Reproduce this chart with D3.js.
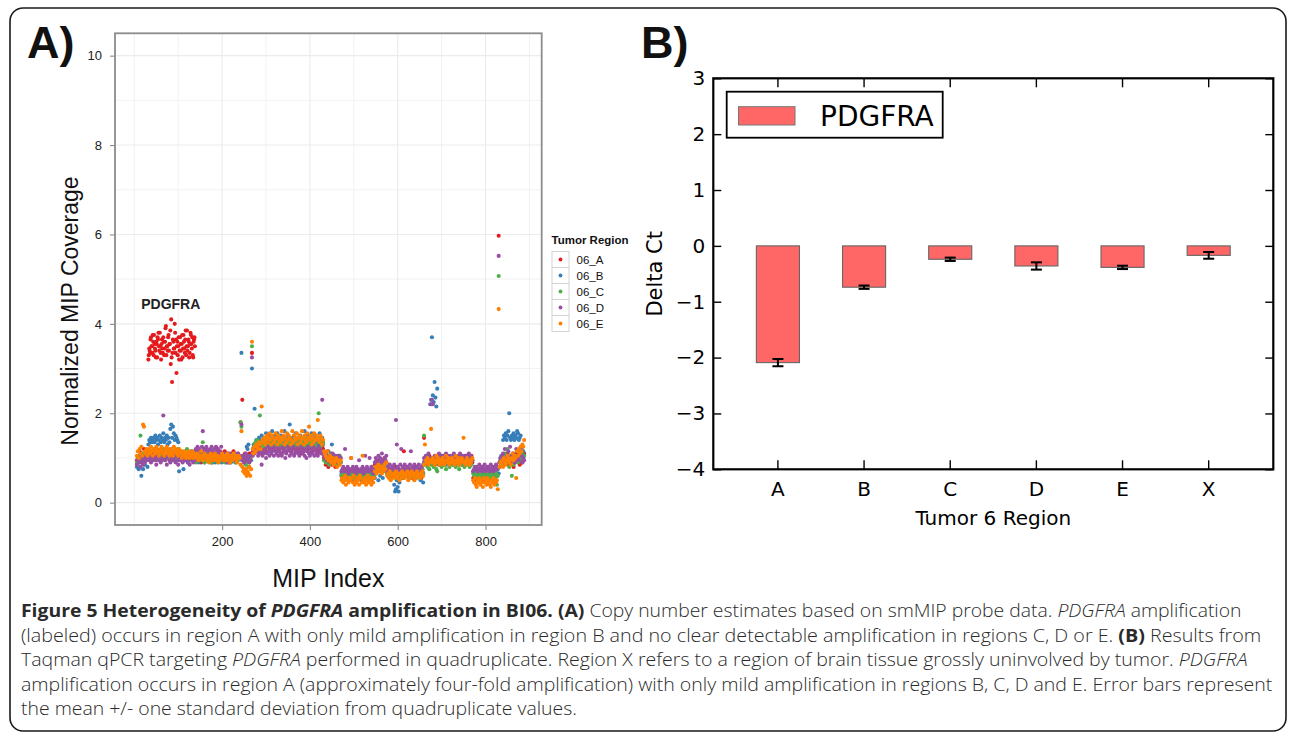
<!DOCTYPE html>
<html><head><meta charset="utf-8">
<script src="https://cdn.jsdelivr.net/npm/d3@7"></script>
<style>
html,body{margin:0;padding:0;background:#fff;}
svg{display:block;}
</style></head><body>
<svg id="fig" width="1290" height="735"></svg>
<script>
// ================= Panel A data =================
const tumorRegions = ["06_A", "06_B", "06_C", "06_D", "06_E"];
const regionColors = ["#E41A1C", "#377EB8", "#4DAF4A", "#984EA3", "#FF7F00"];
const mipMajorTicks = [200, 400, 600, 800];
const mipMinorGrid = [0, 100, 300, 500, 700, 900];
const coverageTicks = [0, 2, 4, 6, 8, 10];
const coverageMinorGrid = [1, 3, 5, 7, 9];

// Normalized coverage, one character per probe
// (every 2nd MIP index from the run's start index); value = (charCode - 40) / 20
// e.g. "<" = 1.0, "A" = 1.25, "2" = 0.5, "p" = 3.6
const cov06_A = [
  [6, ";<=?<>:=@<;>="],
  [32, "hmkrnsjolpiqntkomrjpwnlsouz^qmxkbpnhrloismqjunpktoriqn"],
  [33, "jlqnkpsmiortlnhqkpmvjnrlofikpmtqnjrlohsmpkunlqiosmjpr"],
  [140, "<=;>?<:=<>@;<=>;?<=:<>=;<@?=<;>=<?;=<>:=<;>?<=;<>=<"],
  [242, "L<V=;>:<=;><="],
  [268, "k"],
  [270, "?>@A?@BA>?@CB@A?BDA@C?AB@DCA?B@AC>B@DA?CBA@B?DCA@B?AC@BA>?@BAC?@B>A@?BAC@?>A@B?A@"],
  [432, "<;9:=8;<:9;=<8:;9<;:"],
  [472, "43526345245362435426354235462453652436"],
  [548, "9:7;8:96;:8<9:"],
  [576, "5746354765847536457?6548574635764857456375"],
  [660, "E;:<9;=:<;9:<=;:<9;:=<;9:;<=:9;<:;=9<:;<=:;9<;:=<;:9<;=:"],
  [772, "35462453643526453652435463545"],
  [832, "8:;<9=:;<>9;:<=;8<:>;=<9;<:=>"]
];
const cov06_B = [
  [6, "8;7:<4;7:9;<8"],
  [32, "BDCECDECFDEBDFCEDGCEDFBECIKEJGDFEDC6=;<>7=<;>:=<;?=<;>"],
  [140, ";<=:<;>=<;:<=;<>;:<=<;:=<>;<=:;<=;<:>=;<:=<;>:<=;<<"],
  [242, "=k;<:=;A@B<=;"],
  [268, "d"],
  [270, "@BRADCBEDCFBDECGDBFCEDHBDFCEGBDCFEDBHCEDFCKBDECFDGBCEDFBCEDHBCFDEBCGDEBFCDEBGCDEB"],
  [432, "?>=<?=;<>B<=;:<;=:;<"],
  [472, "54635462536453625463546253645362546354"],
  [548, "3869274;83:796"],
  [576, "574635470-.2/-1546375465736457546375642561"],
  [660, ":<;9=;:TVrXU^WS[;:<9=;<:;9<=:;<;:9=<;:<;9:=<;:<9;=:<;:<;"],
  [772, "657465736475645736574657364575"],
  [832, ":<=;DFEGDFHPEDFEGDFEHGDEF@>?="]
];
const cov06_C = [
  [6, ":<=;F<>;=<?;="],
  [32, "<=>;?<=@;<>=?;<=>@<;=?<>=;@<=?>;<=@>;<?=<>;=@<?;=<>=?<"],
  [140, ":<=;<>=;C<:=<;>=<;:<=>;<=:;<>=;<=:<;>=<:;=<;>=:<;<="],
  [242, "LJ<;=:9;<8:<="],
  [268, "n"],
  [270, "@ABCADB@OCBDACBEADCBDAEBCADBECADCBAEDBCADBECDABCEADBCDAEBCDABECDABCEADCBDAEPCADBC"],
  [432, ";<:=;<9=>;<:;=<9;<=:"],
  [472, "45345635443543654345364534536453436544"],
  [548, "7869788:7968:7"],
  [576, "546354765463574653746545637465473564536475"],
  [660, "F:9;8:7;9<:8;976:;9<8:;9:7;<98:;:9<;8:;97:;<9:8;9<:;8:9;"],
  [772, "54635463546354654364535463504"],
  [832, "8;<:9=>;<@:8;=4>9;<=?:;<=>;<="]
];
const cov06_D = [
  [6, "9;<:8=;9<:;=<"],
  [32, "<;=:<>;<=9;<=>:;<O=;<9=>;:<=;<>:=;9<;=<:>;=<;:=9<;=:<;"],
  [140, "@?A>@?=AH@>?A@=?>@A?=@>A?@=>?A<=;><=:<=>;<=><;=<><="],
  [242, "<K;=:<>;=<:;="],
  [268, "i"],
  [270, "=?>@A?=>@?9=>?@<>A?=@>?A=@?>A=?@>=A?@<>?A@=?>@A=>?@A>=?@A>?=@<?A>=@?>A=@?>=A@?>V?"],
  [432, "=<>;=?<:=<>;<=;<:=;<"],
  [472, "6786@768576<78675876;676857=6876<78657"],
  [548, ":<;9=:<;>:9<;="],
  [576, "6879768597MB8769@7869758679?68797685976869"],
  [660, "<;=:<>;<TVT;=<:;<>=;:<=;<>:=<;=<:;>=<;:=<>;<=:;<=;<>:=<;"],
  [772, "67878679786879678876978687978"],
  [832, ":<;=>:@<;=?<A;=<>:;@=<;>?=:<;"]
];
const cov06_E = [
  [6, "=?<@>A=KJ?>@="],
  [32, "?@>A?=@?>A@?=>@A?>=@?A>@=?@>=A?@>?=@>?<=>?=<>=?<>=?<>="],
  [140, "=<>;=<?=;<>=<;=:<>=;<=>;<=:;<=><;=<;>=<:=;<><=;:<=<"],
  [242, "9H86757465847"],
  [268, "p"],
  [270, "@>A?BA@CB@SDCEBDFCEGDBFECDGEBFDCEHDFBECGDFEBDHCFEDGBEFCDHEBFDCGEJDFBECGDFEMDCFEBD"],
  [432, "?>=<?;<=:;<9:;<8;:9;"],
  [472, "23124032132<314021320431=2130241320313"],
  [548, "6857968758697:"],
  [576, "453624535463452536453546245365425364543564"],
  [660, "9B;:<9;:I;<:9;=:<;9:;<:9;=;:<9:;<:;9=;:<9;:<;E:9;<:;9:;<"],
  [772, "2130/213021/31203120/2130212."],
  [832, "8:9;8<:9;=<:;9<>;=<3?=@>A?BAD"]
];
// single probes far above the encoded range
const coverageSpikes = [
  { region: "06_A", index: 830, value: 5.97 },
  { region: "06_C", index: 830, value: 5.07 },
  { region: "06_D", index: 830, value: 5.52 },
  { region: "06_E", index: 830, value: 4.33 }
];
const geneLabels = [{ text: "PDGFRA", index: 83, value: 4.44 }];

// ================= Panel B data =================
const tumor6Regions = ["A", "B", "C", "D", "E", "X"];
const deltaCt = [-2.09, -0.74, -0.24, -0.36, -0.385, -0.17];
const deltaCtSD = [0.065, 0.03, 0.03, 0.065, 0.03, 0.06];
const deltaCtTicks = [-4, -3, -2, -1, 0, 1, 2, 3];
const legendB = ["PDGFRA"];

// ================= Caption =================
const captionLines = [
  [["Figure 5 Heterogeneity of ", "b"], ["PDGFRA", "bi"], [" amplification in BI06. (A)", "b"], [" Copy number estimates based on smMIP probe data. ", ""], ["PDGFRA", "i"], [" amplification", ""]],
  [["(labeled) occurs in region A with only mild amplification in region B and no clear detectable amplification in regions C, D or E. ", ""], ["(B)", "b"], [" Results from", ""]],
  [["Taqman qPCR targeting ", ""], ["PDGFRA", "i"], [" performed in quadruplicate. Region X refers to a region of brain tissue grossly uninvolved by tumor. ", ""], ["PDGFRA", "i"]],
  [["amplification occurs in region A (approximately four-fold amplification) with only mild amplification in regions B, C, D and E. Error bars represent", ""]],
  [["the mean +/- one standard deviation from quadruplicate values.", ""]]
];
const captionRightEdge = [1242, 1262, 1248, 1273, 577];

// ================= Drawing =================
const svg = d3.select("#fig");
const ARIAL = "'Liberation Sans', Arial, Helvetica, sans-serif";
const DEJAVU = "'DejaVu Sans', 'Bitstream Vera Sans', sans-serif";

svg.append("rect").attr("x", 10).attr("y", 8).attr("width", 1276).attr("height", 723)
  .attr("rx", 13).attr("fill", "none").attr("stroke", "#1a1a1a").attr("stroke-width", 1.6);

// ---------- Panel A ----------
const pa = { left: 115, right: 541.7, top: 33.3, bottom: 525 };
const xA = d3.scaleLinear().domain([-44, 928]).range([pa.left, pa.right]);
const yA = d3.scaleLinear().domain([-0.5, 10.5]).range([pa.bottom, pa.top]);
const gA = svg.append("g");

gA.append("rect").attr("x", pa.left).attr("y", pa.top).attr("width", pa.right - pa.left)
  .attr("height", pa.bottom - pa.top).attr("fill", "#fff");

gA.selectAll("line.vminor").data(mipMinorGrid).join("line")
  .attr("x1", d => xA(d)).attr("x2", d => xA(d)).attr("y1", pa.top).attr("y2", pa.bottom)
  .attr("stroke", "#f2f2f2").attr("stroke-width", 1);
gA.selectAll("line.hminor").data(coverageMinorGrid).join("line")
  .attr("y1", d => yA(d)).attr("y2", d => yA(d)).attr("x1", pa.left).attr("x2", pa.right)
  .attr("stroke", "#f2f2f2").attr("stroke-width", 1);
gA.selectAll("line.vmajor").data(mipMajorTicks).join("line")
  .attr("x1", d => xA(d)).attr("x2", d => xA(d)).attr("y1", pa.top).attr("y2", pa.bottom)
  .attr("stroke", "#ebebeb").attr("stroke-width", 1.1);
gA.selectAll("line.hmajor").data(coverageTicks).join("line")
  .attr("y1", d => yA(d)).attr("y2", d => yA(d)).attr("x1", pa.left).attr("x2", pa.right)
  .attr("stroke", "#ebebeb").attr("stroke-width", 1.1);

const decodeRuns = runs => runs.flatMap(([start, s]) =>
  Array.from(s, (c, i) => ({ index: start + 2 * i, value: (c.charCodeAt(0) - 40) / 20 })));
const seriesRuns = [cov06_A, cov06_B, cov06_C, cov06_D, cov06_E];
const color = d3.scaleOrdinal().domain(tumorRegions).range(regionColors);

tumorRegions.forEach((r, si) => {
  const pts = decodeRuns(seriesRuns[si]).concat(coverageSpikes.filter(d => d.region === r));
  gA.append("g").selectAll("circle").data(pts).join("circle")
    .attr("cx", d => xA(d.index)).attr("cy", d => yA(d.value)).attr("r", 2.05)
    .attr("fill", color(r));
});

gA.selectAll("text.gene").data(geneLabels).join("text")
  .attr("x", d => xA(d.index)).attr("y", d => yA(d.value)).attr("dy", "0.35em")
  .attr("text-anchor", "middle").attr("font-family", ARIAL).attr("font-weight", "bold")
  .attr("font-size", 14).attr("fill", "#222").text(d => d.text);

gA.append("rect").attr("x", pa.left).attr("y", pa.top).attr("width", pa.right - pa.left)
  .attr("height", pa.bottom - pa.top).attr("fill", "none").attr("stroke", "#8c8c8c").attr("stroke-width", 1.8);

const styleAxisA = g => {
  g.select(".domain").remove();
  g.selectAll(".tick line").attr("stroke", "#8c8c8c").attr("stroke-width", 1.1);
  g.selectAll(".tick text").attr("font-family", ARIAL).attr("font-size", 13).attr("fill", "#222");
};
gA.append("g").attr("transform", `translate(${pa.left},0)`)
  .call(d3.axisLeft(yA).tickValues(coverageTicks).tickSize(5).tickPadding(8)).call(styleAxisA);
gA.append("g").attr("transform", `translate(0,${pa.bottom})`)
  .call(d3.axisBottom(xA).tickValues(mipMajorTicks).tickSize(5).tickPadding(7)).call(styleAxisA);

gA.append("text").attr("transform", `translate(78,311) rotate(-90)`)
  .attr("text-anchor", "middle").attr("font-family", ARIAL).attr("font-size", 23).attr("fill", "#111")
  .text("Normalized MIP Coverage");
gA.append("text").attr("x", (pa.left + pa.right) / 2).attr("y", 587)
  .attr("text-anchor", "middle").attr("font-family", ARIAL).attr("font-size", 25).attr("fill", "#111")
  .text("MIP Index");

// legend A
const lg = gA.append("g");
lg.append("text").attr("x", 551.5).attr("y", 244).attr("font-family", ARIAL).attr("font-weight", "bold")
  .attr("font-size", 11.5).attr("fill", "#111").text("Tumor Region");
tumorRegions.forEach((r, i) => {
  const cy = 259.5 + i * 16;
  lg.append("rect").attr("x", 552).attr("y", cy - 8).attr("width", 17).attr("height", 16)
    .attr("fill", "#fff").attr("stroke", "#d4d4d4").attr("stroke-width", 1);
  lg.append("circle").attr("cx", 560.5).attr("cy", cy).attr("r", 1.9).attr("fill", color(r));
  lg.append("text").attr("x", 576.5).attr("y", cy).attr("dy", "0.36em").attr("font-family", ARIAL)
    .attr("font-size", 11.5).attr("fill", "#111").text(r);
});

// panel letters
svg.append("text").attr("x", 27).attr("y", 58).attr("font-family", ARIAL).attr("font-weight", "bold")
  .attr("font-size", 45).attr("fill", "#111").text("A)");
svg.append("text").attr("x", 641).attr("y", 58).attr("font-family", ARIAL).attr("font-weight", "bold")
  .attr("font-size", 45).attr("fill", "#111").text("B)");

// ---------- Panel B ----------
const pb = { left: 713.3, right: 1273.3, top: 78.3, bottom: 469.3 };
const xB = d3.scaleBand().domain(tumor6Regions).range([pb.left, pb.right]).paddingInner(0.5).paddingOuter(0.5);
const yB = d3.scaleLinear().domain([-4, 3]).range([pb.bottom, pb.top]);
const gB = svg.append("g");
const barData = tumor6Regions.map((r, i) => ({ region: r, value: deltaCt[i], sd: deltaCtSD[i] }));

gB.selectAll("rect.bar").data(barData).join("rect")
  .attr("x", d => xB(d.region)).attr("width", xB.bandwidth())
  .attr("y", d => Math.min(yB(0), yB(d.value))).attr("height", d => Math.abs(yB(d.value) - yB(0)))
  .attr("fill", "#ff6666").attr("stroke", "#666").attr("stroke-width", 1.1);

const eb = gB.selectAll("g.err").data(barData).join("g");
const cx = d => xB(d.region) + xB.bandwidth() / 2;
eb.append("line").attr("x1", cx).attr("x2", cx).attr("y1", d => yB(d.value - d.sd)).attr("y2", d => yB(d.value + d.sd))
  .attr("stroke", "#000").attr("stroke-width", 2);
eb.append("line").attr("x1", d => cx(d) - 5.5).attr("x2", d => cx(d) + 5.5)
  .attr("y1", d => yB(d.value - d.sd)).attr("y2", d => yB(d.value - d.sd)).attr("stroke", "#000").attr("stroke-width", 2);
eb.append("line").attr("x1", d => cx(d) - 5.5).attr("x2", d => cx(d) + 5.5)
  .attr("y1", d => yB(d.value + d.sd)).attr("y2", d => yB(d.value + d.sd)).attr("stroke", "#000").attr("stroke-width", 2);

const styleAxisB = g => {
  g.select(".domain").remove();
  g.selectAll(".tick line").attr("stroke", "#000").attr("stroke-width", 1.4);
  g.selectAll(".tick text").attr("font-family", DEJAVU).attr("font-size", 20).attr("fill", "#000");
};
const minusFmt = d => (d < 0 ? "\u2212" + Math.abs(d) : String(d));
gB.append("g").attr("transform", `translate(0,${pb.bottom})`)
  .call(d3.axisBottom(xB).tickSize(-9).tickPadding(13)).call(styleAxisB);
gB.append("g").attr("transform", `translate(0,${pb.top})`)
  .call(d3.axisTop(xB).tickSize(-9).tickFormat("")).call(styleAxisB);
gB.append("g").attr("transform", `translate(${pb.left},0)`)
  .call(d3.axisLeft(yB).tickValues(deltaCtTicks).tickSize(-8).tickPadding(8).tickFormat(minusFmt)).call(styleAxisB);
gB.append("g").attr("transform", `translate(${pb.right},0)`)
  .call(d3.axisRight(yB).tickValues(deltaCtTicks).tickSize(-8).tickFormat("")).call(styleAxisB);

gB.append("rect").attr("x", pb.left).attr("y", pb.top).attr("width", pb.right - pb.left)
  .attr("height", pb.bottom - pb.top).attr("fill", "none").attr("stroke", "#000").attr("stroke-width", 2.2);

// legend B
gB.append("rect").attr("x", 726.7).attr("y", 91.7).attr("width", 216).attr("height", 46)
  .attr("fill", "#fff").attr("stroke", "#000").attr("stroke-width", 1.8);
gB.append("rect").attr("x", 738.5).attr("y", 106.7).attr("width", 56.5).attr("height", 18.3)
  .attr("fill", "#ff6666").attr("stroke", "#777").attr("stroke-width", 1);
gB.append("text").attr("x", 820).attr("y", 125.8).attr("font-family", DEJAVU).attr("font-size", 28)
  .attr("fill", "#000").text(legendB[0]);

gB.append("text").attr("transform", `translate(662,${(pb.top + pb.bottom) / 2}) rotate(-90)`)
  .attr("text-anchor", "middle").attr("font-family", DEJAVU).attr("font-size", 21).attr("fill", "#000")
  .text("Delta Ct");
gB.append("text").attr("x", (pb.left + pb.right) / 2).attr("y", 525)
  .attr("text-anchor", "middle").attr("font-family", DEJAVU).attr("font-size", 20).attr("fill", "#000")
  .text("Tumor 6 Region");

// ---------- Caption ----------
captionLines.forEach((segs, i) => {
  const g = svg.append("g");
  const t = g.append("text").attr("x", 0).attr("y", 0).attr("font-family", "'Open Sans', 'Noto Sans', sans-serif")
    .attr("font-size", 18).attr("font-weight", 300).attr("fill", "#2a2a2a").style("white-space", "pre");
  segs.forEach(([txt, st]) => {
    const ts = t.append("tspan").text(txt);
    if (st.includes("b")) ts.attr("font-weight", "bold");
    if (st.includes("i")) ts.attr("font-style", "italic");
  });
  const w = t.node().getComputedTextLength();
  const k = (captionRightEdge[i] - 21) / w;
  g.attr("transform", `translate(21,${617 + i * 24.5}) scale(${k},1)`);
});
</script>
</body></html>
